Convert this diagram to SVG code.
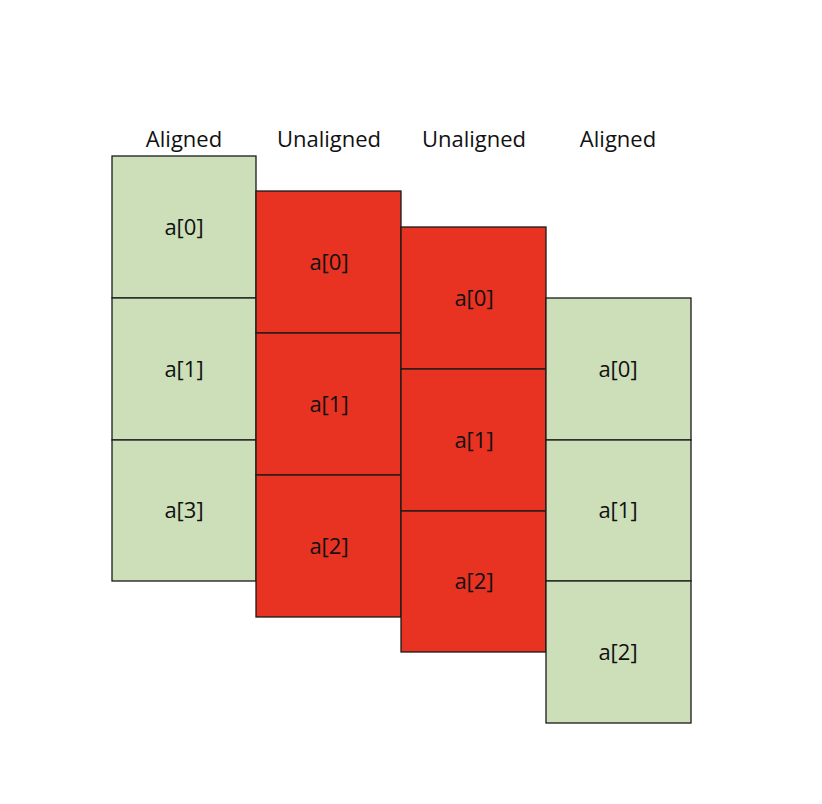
<svg xmlns="http://www.w3.org/2000/svg" width="822" height="804" viewBox="0 0 822 804">
<style>
.g{fill:#cddfb9;stroke:#1a1a1a;stroke-width:1.3}
.r{fill:#e83222;stroke:#1a1a1a;stroke-width:1.3}
text{font-family:"Open Sans","Noto Sans","Liberation Sans",sans-serif;font-size:22px;fill:#111;text-anchor:middle}
</style>
<rect width="822" height="804" fill="#fff"/>
<g id="headers">
<text x="184" y="147">Aligned</text>
<text x="329" y="147">Unaligned</text>
<text x="474" y="147">Unaligned</text>
<text x="618" y="147">Aligned</text>
</g>
<g id="col1">
<rect class="g" x="112" y="156" width="144" height="142"/><text x="184" y="235">a[0]</text>
<rect class="g" x="112" y="298" width="144" height="142"/><text x="184" y="377">a[1]</text>
<rect class="g" x="112" y="440" width="144" height="141"/><text x="184" y="518">a[3]</text>
</g>
<g id="col2">
<rect class="r" x="256" y="191" width="145" height="142"/><text x="329" y="270">a[0]</text>
<rect class="r" x="256" y="333" width="145" height="142"/><text x="329" y="412">a[1]</text>
<rect class="r" x="256" y="475" width="145" height="142"/><text x="329" y="554">a[2]</text>
</g>
<g id="col3">
<rect class="r" x="401" y="227" width="145" height="142"/><text x="474" y="306">a[0]</text>
<rect class="r" x="401" y="369" width="145" height="142"/><text x="474" y="448">a[1]</text>
<rect class="r" x="401" y="511" width="145" height="141"/><text x="474" y="589">a[2]</text>
</g>
<g id="col4">
<rect class="g" x="546" y="298" width="145" height="142"/><text x="618" y="377">a[0]</text>
<rect class="g" x="546" y="440" width="145" height="141"/><text x="618" y="518">a[1]</text>
<rect class="g" x="546" y="581" width="145" height="142"/><text x="618" y="660">a[2]</text>
</g>
<g id="connectors"/>
</svg>
